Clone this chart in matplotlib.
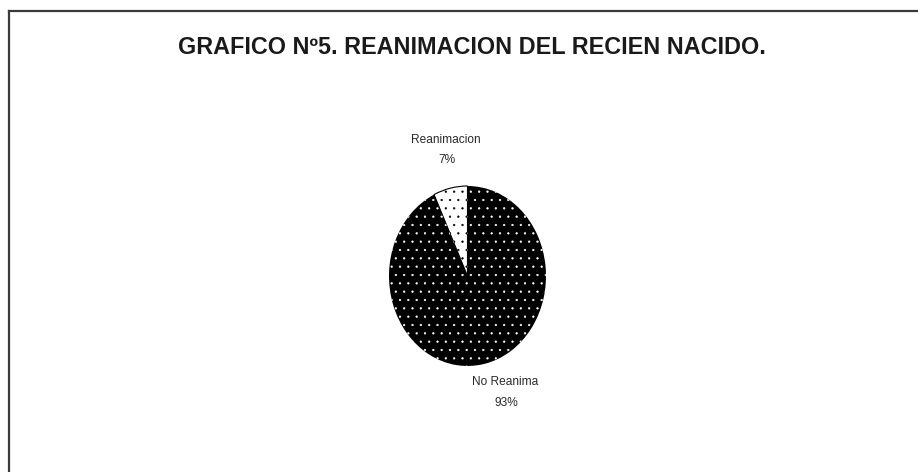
import matplotlib.pyplot as plt
from matplotlib.lines import Line2D

# datos
categorias = ['Reanimacion', 'No Reanima']
valores = [7, 93]
titulo = 'GRAFICO Nº5. REANIMACION DEL RECIEN NACIDO.'

W, H = 918, 472
fig = plt.figure(figsize=(W / 100, H / 100), dpi=100)
fig.patch.set_facecolor('white')

def px(x, y):
    return x / W, 1 - y / H

# marco (solo borde superior e izquierdo visibles)
fig.add_artist(Line2D([8.5 / W, 1], [1 - 10.5 / H] * 2, color='#3a3a3a', lw=1.6,
                      transform=fig.transFigure))
fig.add_artist(Line2D([8.5 / W] * 2, [0, 1 - 10.5 / H], color='#3a3a3a', lw=1.6,
                      transform=fig.transFigure))

# titulo
tx, ty = px(472, 48)
fig.text(tx, ty, titulo, ha='center', va='center', fontsize=16.8,
         family=['Liberation Sans Narrow', 'Liberation Sans', 'DejaVu Sans'],
         fontweight='bold', color='#1a1a1a')

# pie eliptico
left, top, right, bottom = 389, 186, 546, 366
ax = fig.add_axes([left / W, 1 - bottom / H, (right - left) / W, (bottom - top) / H])
plt.rcParams['hatch.linewidth'] = 0.4
wedges, _ = ax.pie(valores, startangle=90, counterclock=True, radius=1,
                   wedgeprops=dict(linewidth=0))
ax.set_aspect('auto')
ax.set_xlim(-1, 1)
ax.set_ylim(-1, 1)
ax.axis('off')

wedges[0].set_facecolor('white')
wedges[0].set_edgecolor('black')
wedges[0].set_hatch('..')
wedges[0].set_linewidth(0.8)
wedges[1].set_facecolor('black')
wedges[1].set_edgecolor('white')
wedges[1].set_hatch('..')
wedges[1].set_linewidth(0)

# etiquetas
fam = ['Liberation Sans Narrow', 'Liberation Sans', 'DejaVu Sans']
estilo = dict(ha='center', va='center', fontsize=8.6, family=fam, color='#2a2a2a')
x, y = px(446, 140)
fig.text(x, y, categorias[0], **estilo)
x, y = px(447, 160)
fig.text(x, y, f'{valores[0]}%', **estilo)
x, y = px(505, 382)
fig.text(x, y, categorias[1], **estilo)
x, y = px(506, 403)
fig.text(x, y, f'{valores[1]}%', **estilo)

fig.savefig('out.png', dpi=100)
